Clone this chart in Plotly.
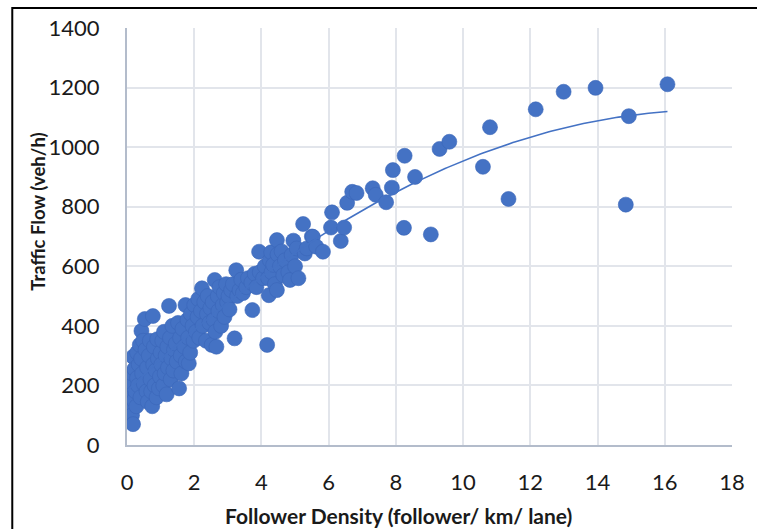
import numpy as np
import plotly.graph_objects as go

# Follower density (follower/km/lane) and traffic flow (veh/h) observations
density = [
    0.02, 0.05, 0.08, 0.10, 0.12, 0.14, 0.15, 0.18, 0.18, 0.20, 0.22, 0.25, 0.28, 0.30, 0.30,
    0.33, 0.35, 0.38, 0.40, 0.42, 0.43, 0.45, 0.48, 0.50, 0.53, 0.55, 0.58,
    0.60, 0.62, 0.65, 0.68, 0.70, 0.72, 0.75, 0.77, 0.78, 0.80, 0.82, 0.85, 0.88, 0.90, 0.92,
    0.95, 0.98, 1.00,
    1.02, 1.05, 1.08, 1.10, 1.12, 1.15, 1.18, 1.20, 1.22, 1.25, 1.28, 1.30, 1.32, 1.35, 1.38,
    1.40, 1.45, 1.48,
    1.52, 1.55, 1.58, 1.60, 1.62, 1.65, 1.70, 1.74, 1.75, 1.80, 1.82, 1.84, 1.88, 1.90, 1.95, 1.98,
    2.00, 2.05, 2.10, 2.12, 2.15, 2.20, 2.23, 2.25, 2.30, 2.35, 2.38, 2.40, 2.45, 2.48,
    2.52, 2.55, 2.58, 2.61, 2.63, 2.66, 2.70, 2.72, 2.75, 2.80, 2.85, 2.88, 2.90, 2.95, 2.98,
    3.02, 3.05, 3.10, 3.15, 3.20, 3.25, 3.28, 3.35, 3.40, 3.45,
    3.55, 3.60, 3.70, 3.73, 3.80, 3.85, 3.93, 3.95,
    4.05, 4.10, 4.17, 4.20, 4.22, 4.25, 4.29, 4.30, 4.35, 4.40, 4.46, 4.46, 4.48,
    4.55, 4.60, 4.65, 4.70, 4.80, 4.85, 4.90, 4.95, 5.00, 5.05, 5.10, 5.24, 5.29, 5.35, 5.50,
    5.53, 5.63, 5.83,
    6.07, 6.10, 6.36, 6.46, 6.55, 6.70, 6.83, 7.31, 7.40, 7.71, 7.88, 7.91, 8.24, 8.26, 8.57,
    9.04, 9.30, 9.59, 10.59, 10.80, 11.35, 12.16, 12.99, 13.94, 14.84, 14.93, 16.08,
]
flow = [
    142, 190, 165, 120, 210, 241, 100, 70, 296, 150, 255, 180, 130, 310, 225,
    200, 270, 336, 160, 290, 383, 240, 350, 205, 423, 320, 180,
    260, 145, 300, 350, 220, 180, 130, 433, 270, 330, 200, 250, 160, 355, 290,
    190, 230, 310,
    270, 350, 200, 380, 240, 300, 170, 330, 260, 467, 360, 220, 290, 400, 250,
    320, 340, 280,
    410, 190, 360, 300, 240, 390, 330, 470, 280, 420, 360, 274, 310, 440, 400, 350,
    470, 380, 430, 490, 360, 450, 526, 400, 480, 350, 440, 500, 410, 460,
    336, 480, 420, 554, 380, 330, 500, 450, 530, 400, 470, 510, 430, 540, 480,
    500, 455, 520, 540, 358, 587, 500, 520, 555, 510,
    530, 560, 545, 453, 575, 530, 649, 580,
    560, 600, 336, 560, 503, 620, 647, 580, 605, 540, 520, 688, 640,
    600, 650, 570, 620, 580, 554, 638, 686, 600, 660, 560, 742, 643, 660, 700,
    699, 666, 649,
    730, 781, 685, 730, 813, 850, 846, 862, 840, 815, 864, 923, 729, 971, 900,
    707, 994, 1018, 934, 1067, 826, 1127, 1186, 1199, 807, 1104, 1211,
]

x_ticks = [0, 2, 4, 6, 8, 10, 12, 14, 16, 18]
y_ticks = [0, 200, 400, 600, 800, 1000, 1200, 1400]

x_title = "Follower Density (follower/ km/ lane)"
y_title = "Traffic Flow (veh/h)"

BLUE = "#4472C4"
GRID = "#e2e5eb"
AXIS = "#b3bccb"
TEXT = "#1a1a1a"
FONT = "Lato"

# Second-order polynomial trendline fitted to the observations
coef = np.polyfit(density, flow, 2)
trend_x = np.linspace(min(density), max(density), 200)
trend_y = np.polyval(coef, trend_x)

fig = go.Figure()
fig.add_trace(go.Scatter(
    x=density, y=flow, mode="markers",
    marker=dict(size=15, color=BLUE, line=dict(color="#3b66b8", width=0.6)),
    showlegend=False, hoverinfo="skip",
))
fig.add_trace(go.Scatter(
    x=trend_x, y=trend_y, mode="lines",
    line=dict(color=BLUE, width=1.6),
    showlegend=False, hoverinfo="skip",
))

fig.update_layout(
    width=757, height=529,
    margin=dict(l=127, r=13, t=28, b=84),
    paper_bgcolor="white", plot_bgcolor="white",
    font=dict(family=FONT, color=TEXT),
    xaxis=dict(
        range=[0, 18], tickvals=x_ticks, ticktext=[str(v) for v in x_ticks],
        showgrid=True, gridcolor=GRID, gridwidth=1.5,
        showline=True, linecolor=AXIS, linewidth=2,
        zeroline=False, ticks="", ticklabelstandoff=17,
        tickfont=dict(size=22, family=FONT, color=TEXT),
    ),
    yaxis=dict(
        range=[0, 1400], tickvals=y_ticks, ticktext=[str(v) for v in y_ticks],
        showgrid=True, gridcolor=GRID, gridwidth=1.5,
        showline=True, linecolor=AXIS, linewidth=2,
        zeroline=False, ticks="", ticklabelstandoff=21,
        tickfont=dict(size=22, family=FONT, color=TEXT),
    ),
    annotations=[
        dict(text=f"<b>{x_title}</b>", xref="paper", yref="paper",
             x=(404 - 127) / 617, y=(445 - 515) / 417, xanchor="center", yanchor="middle",
             showarrow=False, font=dict(size=21, family=FONT, color=TEXT)),
        dict(text=f"<b>{y_title}</b>", xref="paper", yref="paper",
             x=(36 - 127) / 617, y=(445 - 212) / 417, xanchor="center", yanchor="middle",
             textangle=-90, showarrow=False, font=dict(size=18.5, family=FONT, color=TEXT)),
    ],
    shapes=[
        dict(type="path", xref="paper", yref="paper",
             path=f"M {(10 - 127) / 617} {(445 - 540) / 417} L {(10 - 127) / 617} {(445 - 8) / 417} "
                  f"L {(770 - 127) / 617} {(445 - 8) / 417}",
             line=dict(color="black", width=2)),
    ],
)

fig.write_html("out.html")
